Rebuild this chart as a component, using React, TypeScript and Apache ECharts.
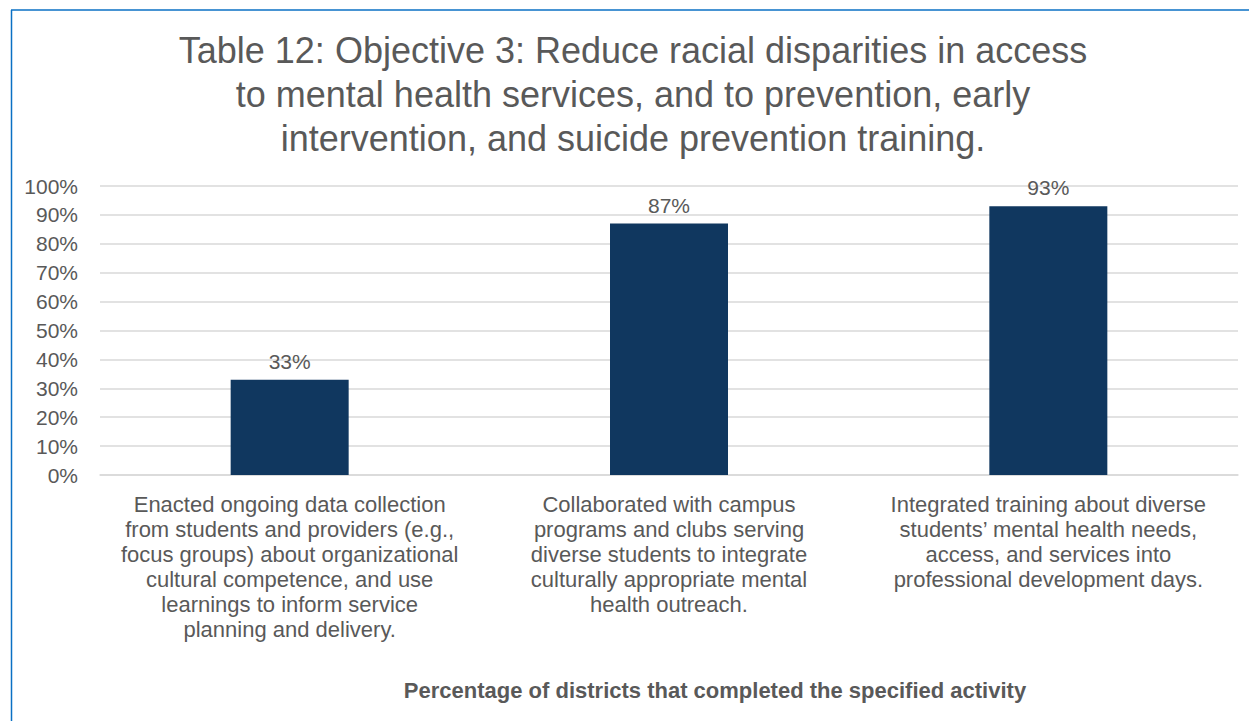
import React, { useEffect, useRef } from "react";
import * as echarts from "echarts";

const titleLines = [
  "Table 12: Objective 3: Reduce racial disparities in access",
  "to mental health services, and to prevention, early",
  "intervention, and suicide prevention training.",
];
const categories = [
  "Enacted ongoing data collection\nfrom students and providers (e.g.,\nfocus groups) about organizational\ncultural competence, and use\nlearnings to inform service\nplanning and delivery.",
  "Collaborated with campus\nprograms and clubs serving\ndiverse students to integrate\nculturally appropriate mental\nhealth outreach.",
  "Integrated training about diverse\nstudents’ mental health needs,\naccess, and services into\nprofessional development days.",
];
const values = [0.33, 0.87, 0.93];
const xAxisTitle = "Percentage of districts that completed the specified activity";

export default function App() {
  const ref = useRef<HTMLDivElement>(null);
  useEffect(() => {
    document.body.style.margin = "0";
    const chart = echarts.init(ref.current!, undefined, { renderer: "svg" });
    const font = "'Liberation Sans', Arial, sans-serif";
    chart.setOption({
      animation: false,
      backgroundColor: "#ffffff",
      textStyle: { fontFamily: font },
      title: {
        text: titleLines.join("\n"),
        left: 628,
        textAlign: "center",
        top: 23,
        textStyle: {
          fontFamily: font,
          fontSize: 36,
          fontWeight: "normal",
          color: "#595959",
          lineHeight: 44,
        },
      },
      grid: { left: 100, right: 11, top: 186, bottom: 246, containLabel: false },
      xAxis: {
        type: "category",
        data: categories,
        axisLine: { show: true, lineStyle: { color: "#d9d9d9", width: 1.5 } },
        axisTick: { show: false },
        axisLabel: {
          interval: 0,
          color: "#595959",
          fontSize: 22,
          lineHeight: 25,
          fontFamily: font,
          margin: 17,
          verticalAlign: "top",
        },
      },
      yAxis: {
        type: "value",
        min: 0,
        max: 1,
        interval: 0.1,
        axisLine: { show: false },
        axisTick: { show: false },
        splitLine: { lineStyle: { color: "#d9d9d9", width: 1.5 } },
        axisLabel: {
          color: "#595959",
          fontSize: 21,
          fontFamily: font,
          margin: 22,
          formatter: (v: number) => Math.round(v * 100) + "%",
        },
      },
      series: [
        {
          type: "bar",
          data: values,
          barWidth: 118,
          itemStyle: { color: "#10375f" },
          label: {
            show: true,
            position: "top",
            distance: 8,
            color: "#595959",
            fontSize: 21,
            fontFamily: font,
            formatter: (p: any) => Math.round(p.value * 100) + "%",
          },
        },
      ],
      graphic: [
        {
          type: "text",
          x: 715,
          y: 690,
          style: {
            text: xAxisTitle,
            fill: "#595959",
            font: `bold 22px ${font}`,
            textAlign: "center",
            textVerticalAlign: "middle",
          },
        },
        {
          type: "line",
          shape: { x1: 11, y1: 10, x2: 1249, y2: 10 },
          style: { stroke: "#0a70c4", lineWidth: 1.5 },
        },
        {
          type: "line",
          shape: { x1: 11.5, y1: 10, x2: 11.5, y2: 721 },
          style: { stroke: "#0a70c4", lineWidth: 1.5 },
        },
      ],
    });
    return () => chart.dispose();
  }, []);
  return <div ref={ref} style={{ width: 1249, height: 721 }} />;
}
